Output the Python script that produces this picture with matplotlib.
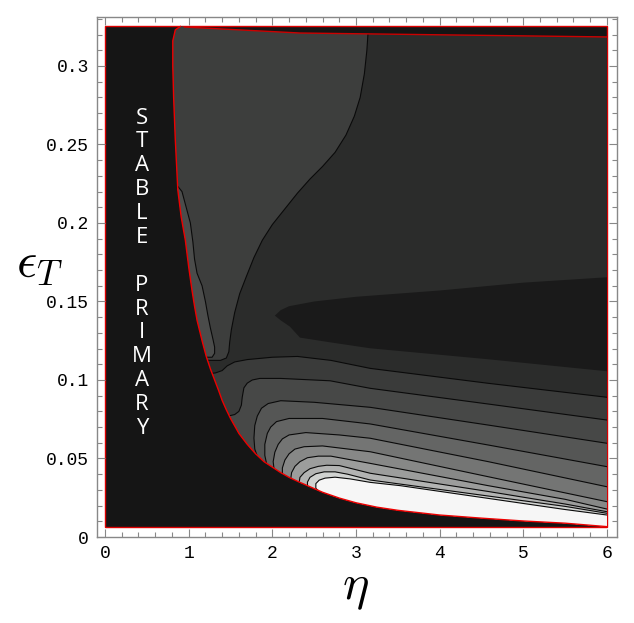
import matplotlib.pyplot as plt
from matplotlib.patches import Polygon, Rectangle
from matplotlib.ticker import MultipleLocator, FixedLocator

plt.rcParams['mathtext.fontset'] = 'cm'

# stability boundary (red curve): eta, eps_T
edge_eta = [0.90, 0.84, 0.81, 0.81, 0.82, 0.84, 0.87, 0.91, 0.96, 1.00, 1.04, 1.07,
            1.10, 1.16, 1.21, 1.26, 1.31, 1.36, 1.40, 1.45, 1.50, 1.60, 1.70, 1.80,
            1.90, 2.00, 2.10, 2.20, 2.30, 2.45, 2.60, 2.80, 3.00, 3.25, 3.50, 4.00,
            4.50, 5.00, 5.50, 6.00]
edge_eps = [0.3252, 0.323, 0.316, 0.300, 0.280, 0.253, 0.221, 0.204, 0.189, 0.172,
            0.157, 0.147, 0.138, 0.125, 0.115, 0.107, 0.100, 0.093, 0.087, 0.081,
            0.0755, 0.066, 0.059, 0.053, 0.048, 0.0445, 0.041, 0.038, 0.0355, 0.032,
            0.0285, 0.0248, 0.0218, 0.019, 0.017, 0.014, 0.012, 0.0102, 0.0088, 0.0066]
top_eta = [6.0, 2.33, 0.95]
top_eps = [0.3185, 0.321, 0.3248]

# plot range of the shaded domain
eta_range = [0.0, 6.0]
eps_range = [0.0066, 0.3255]

# upper-left contour (lighter region)
ca_eta = [3.15, 3.13, 3.10, 3.05, 2.98, 2.88, 2.75, 2.60, 2.45, 2.30, 2.15, 2.00,
          1.88, 1.78, 1.69, 1.61, 1.55, 1.51, 1.49, 1.48, 1.45, 1.38, 1.25, 1.10]
ca_eps = [0.326, 0.310, 0.295, 0.280, 0.268, 0.256, 0.245, 0.236, 0.228, 0.219,
          0.209, 0.199, 0.189, 0.178, 0.166, 0.155, 0.143, 0.132, 0.124, 0.118,
          0.114, 0.1125, 0.1125, 0.113]

# thin strip along the boundary
strip_eta = [0.70, 0.86, 0.92, 0.97, 1.02, 1.05, 1.07, 1.10, 1.16, 1.20, 1.23, 1.26,
             1.29, 1.31, 1.31, 1.28, 1.22, 1.10, 0.70]
strip_eps = [0.224, 0.224, 0.220, 0.210, 0.200, 0.188, 0.177, 0.168, 0.160, 0.150,
             0.141, 0.133, 0.126, 0.121, 0.117, 0.1145, 0.1145, 0.116, 0.116]

# dark tongue
blob_eta = [2.03, 2.10, 2.20, 2.50, 3.00, 4.00, 5.00, 6.05, 6.05, 4.58, 3.17, 2.69,
            2.33, 2.21, 2.10]
blob_eps = [0.141, 0.1445, 0.147, 0.150, 0.153, 0.157, 0.162, 0.1656, 0.1053, 0.1132,
            0.1202, 0.124, 0.127, 0.134, 0.138]

# lower contour lines, from the top one down to the edge of the white region
c1_eta = [1.22, 1.32, 1.40, 1.46, 1.55, 1.70, 2.00, 2.30, 2.70, 3.17, 4.58, 6.0]
c1_eps = [0.104, 0.1045, 0.106, 0.109, 0.1115, 0.113, 0.1145, 0.115, 0.1125, 0.1074, 0.0979, 0.089]
c2_eta = [1.47, 1.55, 1.60, 1.63, 1.64, 1.66, 1.70, 1.76, 1.85, 2.10, 2.69, 3.17, 4.58, 6.0]
c2_eps = [0.077, 0.078, 0.080, 0.084, 0.089, 0.095, 0.098, 0.100, 0.101, 0.101, 0.0995, 0.0947, 0.0847, 0.0745]
c3_eta = [1.82, 1.79, 1.78, 1.79, 1.82, 1.87, 1.95, 2.10, 2.50, 3.17, 4.58, 6.0]
c3_eps = [0.0515, 0.056, 0.063, 0.071, 0.077, 0.082, 0.085, 0.0868, 0.0858, 0.0826, 0.0713, 0.0597]
c4_eta = [1.93, 1.91, 1.91, 1.94, 1.98, 2.05, 2.20, 2.60, 3.17, 4.58, 6.0]
c4_eps = [0.047, 0.052, 0.059, 0.066, 0.070, 0.0735, 0.0755, 0.0755, 0.072, 0.0586, 0.0448]
c5_eta = [2.02, 2.01, 2.03, 2.07, 2.12, 2.20, 2.40, 2.80, 3.17, 4.58, 6.0]
c5_eps = [0.0435, 0.048, 0.054, 0.059, 0.0625, 0.065, 0.0665, 0.065, 0.0629, 0.048, 0.032]
c6_eta = [2.12, 2.12, 2.15, 2.20, 2.27, 2.38, 2.60, 3.17, 4.58, 6.0]
c6_eps = [0.040, 0.044, 0.049, 0.053, 0.056, 0.0575, 0.058, 0.0543, 0.0384, 0.0225]
c7_eta = [2.22, 2.23, 2.27, 2.33, 2.42, 2.55, 2.70, 3.17, 4.58, 5.50, 6.0]
c7_eps = [0.037, 0.041, 0.045, 0.048, 0.0505, 0.0515, 0.0515, 0.0469, 0.0327, 0.024, 0.0178]
c8_eta = [2.32, 2.33, 2.38, 2.45, 2.55, 2.65, 2.80, 3.17, 4.58, 5.50, 6.0]
c8_eps = [0.0345, 0.038, 0.041, 0.0435, 0.045, 0.0457, 0.0455, 0.0406, 0.029, 0.021, 0.0161]
c9_eta = [2.42, 2.42, 2.45, 2.52, 2.62, 2.75, 2.90, 3.17, 4.58, 5.50, 6.0]
c9_eps = [0.0326, 0.035, 0.038, 0.0403, 0.0415, 0.0415, 0.040, 0.0363, 0.0261, 0.0195, 0.0151]
c10_eta = [2.55, 2.52, 2.52, 2.56, 2.63, 2.75, 2.93, 3.17, 3.53, 4.58, 5.50, 6.0]
c10_eps = [0.0295, 0.031, 0.034, 0.0362, 0.0375, 0.0381, 0.037, 0.0348, 0.0327, 0.0246, 0.0175, 0.014]

lines_eta = [c1_eta, c2_eta, c3_eta, c4_eta, c5_eta, c6_eta, c7_eta, c8_eta, c9_eta, c10_eta]
lines_eps = [c1_eps, c2_eps, c3_eps, c4_eps, c5_eps, c6_eps, c7_eps, c8_eps, c9_eps, c10_eps]
band_colors = ['#3a3b3a', '#474847', '#555655', '#646564', '#747574', '#878887',
               '#9c9d9c', '#b3b4b3', '#d0d2d0', '#f6f6f6']

outside_color = '#151515'
main_color = '#2b2c2b'
upper_color = '#3d3e3d'
strip_color = '#4b4c4b'
blob_color = '#1a1a1a'

fig = plt.figure(figsize=(6.34, 6.23), dpi=100)
ax = fig.add_axes([97 / 634, 86 / 623, 520 / 634, 520 / 623])

# outside of the unstable domain
ax.add_patch(Rectangle((eta_range[0], eps_range[0]), eta_range[1] - eta_range[0],
                       eps_range[1] - eps_range[0], facecolor=outside_color,
                       edgecolor='#dd0000', lw=1.0, zorder=1))

# unstable domain
region_pts = list(zip(edge_eta, edge_eps)) + list(zip(top_eta, top_eps))
region = Polygon(region_pts, closed=True, facecolor=main_color, edgecolor='none', zorder=2)
ax.add_patch(region)


def add_clipped(patch):
    ax.add_patch(patch)
    patch.set_clip_path(region)


def add_line(xs, ys):
    ln, = ax.plot([xs[0] - 0.15] + list(xs), [ys[0]] + list(ys), color='#0a0a0a',
                  lw=0.8, zorder=4, solid_joinstyle='round')
    ln.set_clip_path(region)


ca_pts = list(zip(ca_eta, ca_eps)) + [(0.5, ca_eps[-1]), (0.5, 0.34), (ca_eta[0], 0.34)]
add_clipped(Polygon(ca_pts, closed=True, facecolor=upper_color, edgecolor='none', zorder=3))
add_line(ca_eta, ca_eps)

add_clipped(Polygon(list(zip(strip_eta, strip_eps)), closed=True, facecolor=strip_color,
                    edgecolor='none', zorder=3))
add_line(strip_eta[1:-1], strip_eps[1:-1])

add_clipped(Polygon(list(zip(blob_eta, blob_eps)), closed=True, facecolor=blob_color,
                    edgecolor='none', zorder=3))

for xs, ys, col in zip(lines_eta, lines_eps, band_colors):
    pts = [(xs[0] - 0.5, ys[0])] + list(zip(xs, ys)) + [(6.3, ys[-1]), (6.3, -0.01),
                                                        (xs[0] - 0.5, -0.01)]
    add_clipped(Polygon(pts, closed=True, facecolor=col, edgecolor='none', zorder=3))
    add_line(xs, ys)

# red boundary on top
ax.plot(edge_eta, edge_eps, color='#ee0000', lw=1.0, zorder=5, solid_joinstyle='round')
ax.plot(top_eta, top_eps, color='#cc0000', lw=1.0, zorder=5)

ax.text(0.44, 0.168, 'S\nT\nA\nB\nL\nE\n\nP\nR\nI\nM\nA\nR\nY', ha='center', va='center',
        color='white', fontsize=16, family='Open Sans', linespacing=1.18, zorder=6)

ax.set_xlim(-0.096, 6.12)
ax.set_ylim(0, 0.3312)

ax.xaxis.set_major_locator(FixedLocator([0, 1, 2, 3, 4, 5, 6]))
ax.xaxis.set_minor_locator(MultipleLocator(0.2))
ax.yaxis.set_major_locator(FixedLocator([0, 0.05, 0.1, 0.15, 0.2, 0.25, 0.3]))
ax.yaxis.set_minor_locator(MultipleLocator(0.01))
ax.set_xticklabels(['0', '1', '2', '3', '4', '5', '6'])
ax.set_yticklabels(['0', '0.05', '0.1', '0.15', '0.2', '0.25', '0.3'])

ax.tick_params(which='both', direction='in', top=True, right=True, color='#888888', width=0.8)
ax.tick_params(which='major', length=6, pad=6)
ax.tick_params(which='minor', length=3.5)
for lab in ax.get_xticklabels() + ax.get_yticklabels():
    lab.set_family('Liberation Mono')
    lab.set_fontsize(13)
for sp in ax.spines.values():
    sp.set_color('#888888')
    sp.set_linewidth(1.0)

fig.text(39 / 634, 1 - 263 / 623, r'$\epsilon_T$', fontsize=36, ha='center', va='center')
fig.text(355 / 634, 1 - 588 / 623, r'$\eta$', fontsize=36, ha='center', va='center')

fig.savefig('out.png', dpi=100)
